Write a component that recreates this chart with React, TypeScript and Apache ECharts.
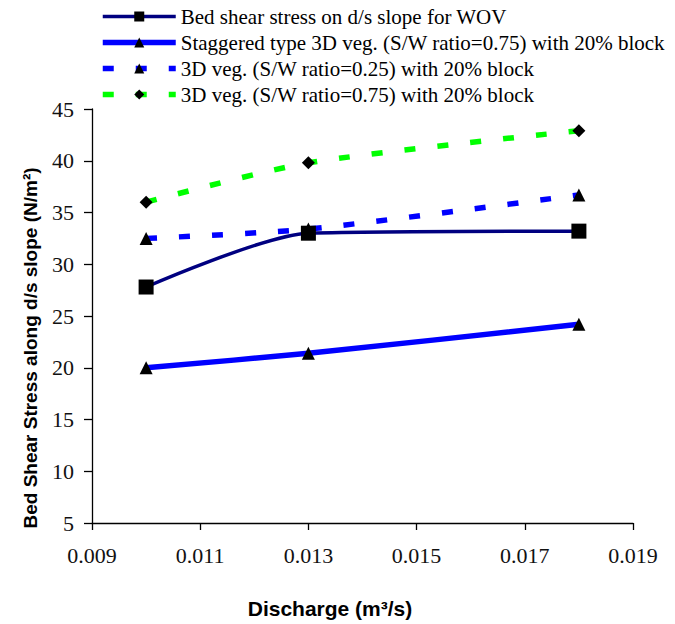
import React, { useEffect, useRef } from "react";
import * as echarts from "echarts";

const discharge = [0.01, 0.013, 0.018];
const wovStress = [27.8, 33.0, 33.2];
const staggered075 = [20.0, 21.4, 24.2];
const veg025 = [32.5, 33.4, 36.7];
const veg075 = [36.0, 39.8, 42.9];
const xTickValues = [0.009, 0.011, 0.013, 0.015, 0.017, 0.019];
const seriesNames = [
  "Bed shear stress on d/s slope for WOV",
  "Staggered type 3D veg. (S/W ratio=0.75) with 20% block",
  "3D veg. (S/W ratio=0.25) with 20% block",
  "3D veg. (S/W ratio=0.75) with 20% block",
];
const lineColors = ["#000080", "#0000FF", "#0000FF", "#00FF00"];
const lineWidths = [3.5, 5.5, 5.5, 5.5];
const symbols = ["rect", "triangle", "triangle", "diamond"];
const symbolSizes = [15, 13, 13, 13];
const dashed = [false, false, true, true];
const yAxisTitle = "Bed Shear Stress along d/s slope (N/m²)";
const xAxisTitle = "Discharge (m³/s)";
const seriesValues = [wovStress, staggered075, veg025, veg075];

export default function App() {
  const ref = useRef<HTMLDivElement>(null);
  useEffect(() => {
    document.body.style.margin = "0";
    if (!ref.current) return;
    const chart = echarts.init(ref.current, undefined, { renderer: "svg" });
    chart.setOption({
      animation: false,
      backgroundColor: "#fff",
      grid: { left: 92, right: 42, top: 109, bottom: 101 },
      legend: {
        orient: "vertical",
        left: 95,
        top: 1,
        itemWidth: 73,
        itemHeight: 12.5,
        itemGap: 5,
        textStyle: { fontFamily: "Liberation Serif", fontSize: 21, color: "#000" },
        data: seriesNames.map((n, i) => ({
          name: n,
          lineStyle: {
            color: lineColors[i],
            width: lineWidths[i],
            type: dashed[i] ? [11, 22] : "solid",
          },
        })),
      },
      xAxis: {
        type: "value",
        min: 0.009,
        max: 0.019,
        axisLabel: {
          customValues: xTickValues,
          formatter: (v: number) => v.toFixed(3),
          fontSize: 22,
          fontFamily: "Liberation Serif",
          color: "#111",
          margin: 21,
        },
        axisTick: {
          show: true,
          length: 7,
          customValues: xTickValues,
          lineStyle: { color: "#000", width: 1.3 },
        },
        axisLine: { show: true, lineStyle: { color: "#000", width: 1.3 } },
        splitLine: { show: false },
      },
      yAxis: {
        type: "value",
        min: 5,
        max: 45,
        interval: 5,
        axisLabel: {
          fontSize: 22,
          fontFamily: "Liberation Serif",
          color: "#111",
          margin: 18,
        },
        axisTick: { show: true, length: 8, lineStyle: { color: "#000", width: 1.3 } },
        axisLine: { show: true, lineStyle: { color: "#000", width: 1.3 } },
        splitLine: { show: false },
      },
      graphic: [
        {
          type: "text",
          x: 30,
          y: 348,
          rotation: Math.PI / 2,
          style: {
            text: yAxisTitle,
            font: 'bold 19px "Liberation Sans"',
            fill: "#000",
            textAlign: "center",
            textVerticalAlign: "middle",
          },
        },
        {
          type: "text",
          x: 330,
          y: 608,
          style: {
            text: xAxisTitle,
            font: 'bold 21px "Liberation Sans"',
            fill: "#000",
            textAlign: "center",
            textVerticalAlign: "middle",
          },
        },
      ],
      series: seriesNames.map((n, i) => ({
        name: n,
        type: "line",
        data: discharge.map((x, j) => [x, seriesValues[i][j]]),
        smooth: 0.25,
        symbol: symbols[i],
        symbolSize: symbolSizes[i],
        itemStyle: { color: "#000" },
        lineStyle: {
          color: lineColors[i],
          width: lineWidths[i],
          type: dashed[i] ? [11, 22] : "solid",
        },
        z: 5 - i,
      })),
    });
    return () => chart.dispose();
  }, []);
  return <div ref={ref} style={{ width: 675, height: 624 }} />;
}
